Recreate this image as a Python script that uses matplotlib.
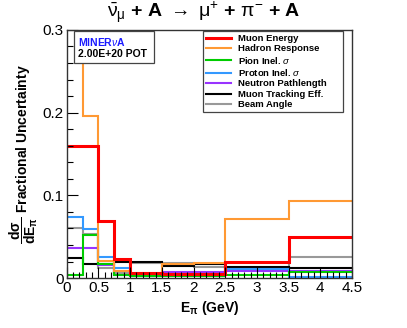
import matplotlib
matplotlib.use('Agg')
import matplotlib.pyplot as plt
from matplotlib.patches import Rectangle
from matplotlib.ticker import MultipleLocator

plt.rcParams['font.family'] = ['Liberation Sans', 'DejaVu Sans']
plt.rcParams['mathtext.fontset'] = 'custom'
plt.rcParams['mathtext.rm'] = 'Liberation Sans'
plt.rcParams['mathtext.bf'] = 'Liberation Sans:bold'
plt.rcParams['mathtext.it'] = 'Liberation Sans:italic'

# bin edges in E_pi (GeV)
edges = [0, 0.25, 0.5, 0.75, 1.0, 1.5, 2.0, 2.5, 3.5, 4.5]

# fractional uncertainties per bin
muon_energy = [0.160, 0.160, 0.069, 0.023, 0.006, 0.005, 0.0055, 0.020, 0.050]
hadron_resp = [0.34, 0.196, 0.021, 0.009, 0.006, 0.017, 0.0185, 0.072, 0.093]
pion_inel = [0.004, 0.052, 0.017, 0.0035, 0.0025, 0.003, 0.0025, 0.004, 0.0077]
proton_inel = [0.074, 0.059, 0.026, 0.0125, 0.004, 0.004, 0.004, 0.011, 0.0015]
neutron_path = [0.037, 0.036, 0.016, 0.004, 0.003, 0.007, 0.008, 0.009, 0.009]
muon_track = [0.024, 0.0165, 0.0165, 0.019, 0.019, 0.015, 0.017, 0.014, 0.012]
beam_angle = [0.060, 0.053, 0.012, 0.006, 0.018, 0.018, 0.013, 0.012, 0.026]

labels = ['Muon Energy', 'Hadron Response', r'Pion Inel. $\sigma$',
          r'Proton Inel. $\sigma$', 'Neutron Pathlength',
          'Muon Tracking Eff.', 'Beam Angle']
series = [muon_energy, hadron_resp, pion_inel, proton_inel,
          neutron_path, muon_track, beam_angle]
colors = ['#ff0000', '#ff9933', '#00cc00', '#3399ff', '#9933ff', '#000000', '#999999']
widths = [2.2, 1.5, 1.5, 1.5, 1.5, 1.5, 1.5]

fig = plt.figure(figsize=(4.07, 3.28), dpi=100)
ax = fig.add_axes([0.164, 0.152, 0.701, 0.757])

# draw grey/black first so the coloured ones sit on top, red last
order = [6, 5, 4, 3, 2, 1, 0]
handles = [None] * len(series)
for i in order:
    ax.stairs(series[i], edges, color=colors[i], linewidth=widths[i],
              baseline=None, label=labels[i])
    handles[i] = plt.Line2D([], [], color=colors[i], linewidth=widths[i])

ax.set_xlim(0, 4.5)
ax.set_ylim(0, 0.3)

ax.xaxis.set_major_locator(MultipleLocator(0.5))
ax.xaxis.set_minor_locator(MultipleLocator(0.1))
ax.yaxis.set_major_locator(MultipleLocator(0.1))
ax.yaxis.set_minor_locator(MultipleLocator(0.02))
ax.xaxis.set_major_formatter(plt.FuncFormatter(lambda v, p: f'{v:g}'))
ax.yaxis.set_major_formatter(plt.FuncFormatter(lambda v, p: f'{v:g}'))
ax.tick_params(which='both', direction='in', labelsize=11, pad=2)
ax.tick_params(which='major', length=8, width=0.8)
ax.tick_params(which='minor', length=4, width=0.8)
for s in ax.spines.values():
    s.set_linewidth(1.0)
    s.set_color('#333333')

ax.set_xlabel(r'$\mathbf{E_{\pi}}$ (GeV)', fontsize=10, fontweight='bold', labelpad=3)
ax.set_ylabel(r'$\mathbf{\dfrac{d\sigma}{dE_{\pi}}}$ Fractional Uncertainty',
              fontsize=10, fontweight='bold', labelpad=2)

fig.text(0.5, 0.962,
         r'$\mathrm{\bar{\nu}_{\mu}}$ + A $\rightarrow$ $\mathrm{\mu^{+}}$ + $\mathrm{\pi^{-}}$ + A',
         ha='center', va='center', fontsize=14, fontweight='bold')

# experiment box
fig.patches.append(Rectangle((74 / 407, 1 - 63 / 328), 80 / 407, 32 / 328,
                             transform=fig.transFigure, facecolor='white',
                             edgecolor='#444444', linewidth=0.9))
fig.text(78 / 407, 1 - 42 / 328, r'MINER$\nu$A', color='#1a1aff', fontsize=7.5,
         fontweight='bold', va='center', ha='left')
fig.text(78 / 407, 1 - 54 / 328, '2.00E+20 POT', color='black', fontsize=7.5,
         fontweight='bold', va='center', ha='left')

leg = ax.legend(handles, labels, loc='upper left', mode='expand',
                bbox_to_anchor=(203 / 407, 1 - 31 / 328, 140 / 407, 0),
                bbox_transform=fig.transFigure, borderaxespad=0,
                prop={'weight': 'bold', 'size': 6.8},
                handlelength=2.7, handletextpad=0.7, labelspacing=0.15,
                borderpad=0.3, fancybox=False, framealpha=1)
leg.get_frame().set_edgecolor('#444444')
leg.get_frame().set_linewidth(0.9)

fig.savefig('out.png', dpi=100)
